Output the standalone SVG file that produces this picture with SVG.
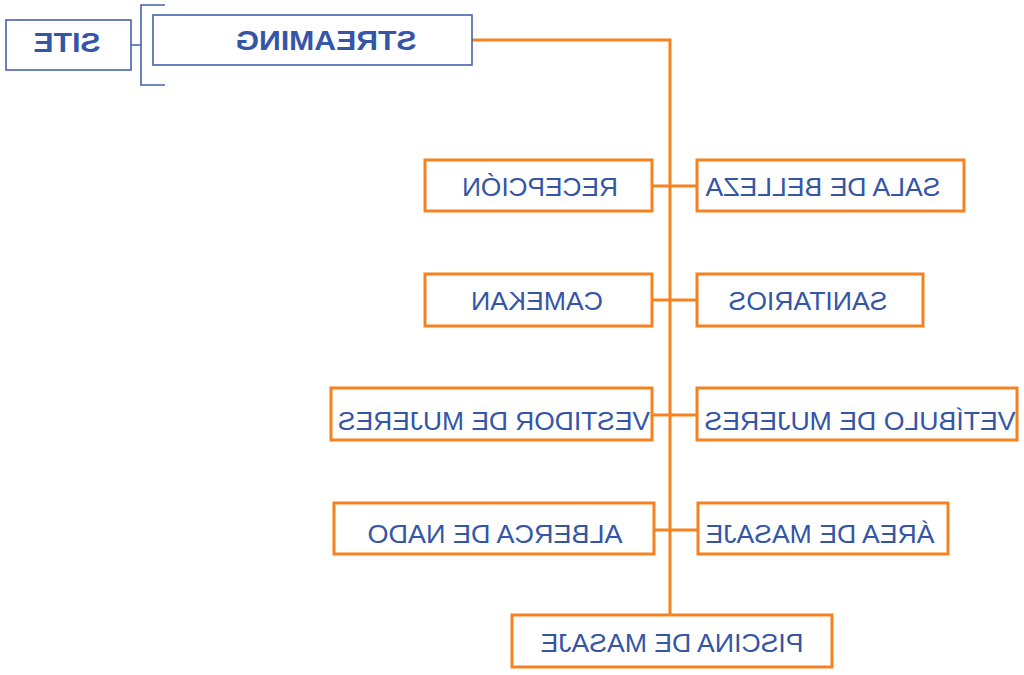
<svg xmlns="http://www.w3.org/2000/svg" width="1024" height="675" viewBox="0 0 1024 675">
<style>
.ob{fill:#fff;stroke:#f5821f;stroke-width:3}
.bb{fill:#fff;stroke:#4661ad;stroke-width:1.6}
.t{font-family:"Liberation Sans",Arial,sans-serif;font-size:26px;fill:#3555a6;text-anchor:middle}
.tb{font-family:"Liberation Sans",Arial,sans-serif;font-size:28px;font-weight:900;fill:#3555a6;text-anchor:middle}
.c{fill:none;stroke:#f5821f;stroke-width:3}
.cb{fill:none;stroke:#4661ad;stroke-width:1.6}
</style>
<rect width="1024" height="675" fill="#fff"/>
<g id="connectors">
<path class="cb" d="M131,45 H141 M165,5 H141 V85 H165"/>
<path class="c" d="M472,40 H670 V615"/>
<path class="c" d="M652,186 H697 M652,300 H697 M652,415 H697 M652,530 H698"/>
</g>
<g id="site"><rect class="bb" x="6" y="20" width="125" height="50"/><text class="tb" transform="scale(-1,1)" x="-67" y="52" textLength="67" lengthAdjust="spacingAndGlyphs">SITE</text></g>
<g id="streaming"><rect class="bb" x="153" y="15" width="319" height="50"/><text class="tb" transform="scale(-1,1)" x="-326" y="50" textLength="181" lengthAdjust="spacingAndGlyphs">STREAMING</text></g>
<g id="recepcion"><rect class="ob" x="425" y="160" width="227" height="51"/><text class="t" transform="scale(-1,1)" x="-540" y="196" textLength="156" lengthAdjust="spacingAndGlyphs">RECEPCIÓN</text></g>
<g id="sala"><rect class="ob" x="697" y="160" width="267" height="51"/><text class="t" transform="scale(-1,1)" x="-823" y="196" textLength="235" lengthAdjust="spacingAndGlyphs">SALA DE BELLEZA</text></g>
<g id="camekan"><rect class="ob" x="425" y="274" width="227" height="52"/><text class="t" transform="scale(-1,1)" x="-537" y="310" textLength="132" lengthAdjust="spacingAndGlyphs">CAMEKAN</text></g>
<g id="sanitarios"><rect class="ob" x="697" y="274" width="226" height="52"/><text class="t" transform="scale(-1,1)" x="-808" y="310" textLength="159" lengthAdjust="spacingAndGlyphs">SANITARIOS</text></g>
<g id="vestidor"><rect class="ob" x="331" y="388" width="321" height="52"/><text class="t" transform="scale(-1,1)" x="-494" y="430" textLength="312" lengthAdjust="spacingAndGlyphs">VESTIDOR DE MUJERES</text></g>
<g id="vestibulo"><rect class="ob" x="697" y="388" width="320" height="52"/><text class="t" transform="scale(-1,1)" x="-860" y="430" textLength="311" lengthAdjust="spacingAndGlyphs">VETÍBULO DE MUJERES</text></g>
<g id="alberca"><rect class="ob" x="334" y="503" width="320" height="51"/><text class="t" transform="scale(-1,1)" x="-495" y="543" textLength="255" lengthAdjust="spacingAndGlyphs">ALBERCA DE NADO</text></g>
<g id="area"><rect class="ob" x="698" y="503" width="250" height="51"/><text class="t" transform="scale(-1,1)" x="-820" y="543" textLength="229" lengthAdjust="spacingAndGlyphs">ÁREA DE MASAJE</text></g>
<g id="piscina"><rect class="ob" x="512" y="615" width="320" height="52"/><text class="t" transform="scale(-1,1)" x="-672" y="652" textLength="263" lengthAdjust="spacingAndGlyphs">PISCINA DE MASAJE</text></g>
</svg>
